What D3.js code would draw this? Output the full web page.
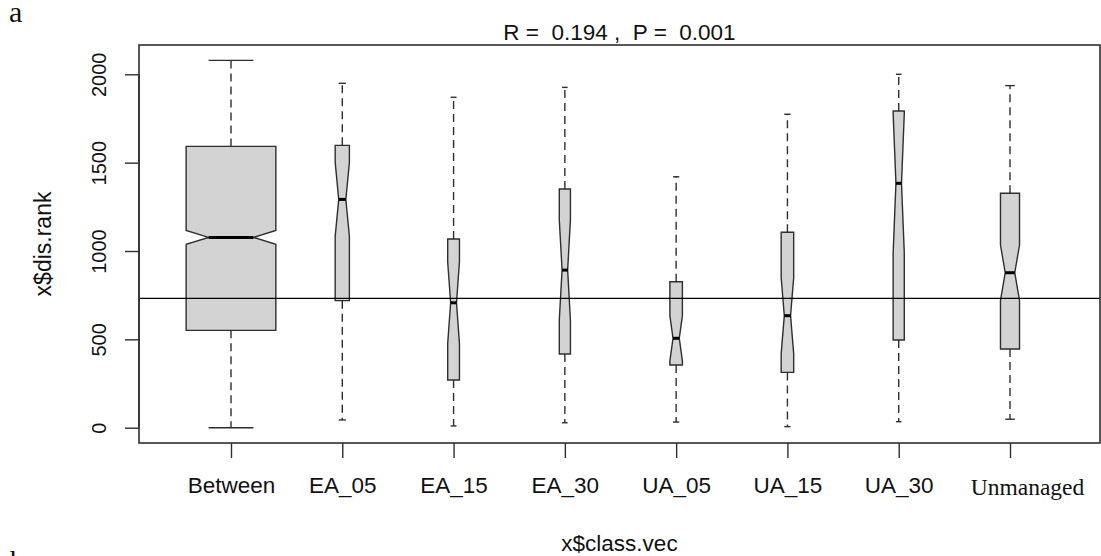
<!DOCTYPE html>
<html>
<head>
<meta charset="utf-8">
<script src="https://cdn.jsdelivr.net/npm/d3@7"></script>
<style>
  html, body { margin: 0; padding: 0; background: #ffffff; }
  svg { display: block; }
  .sans { font-family: "Liberation Sans", Arial, Helvetica, sans-serif; fill: #111; }
  .serif { font-family: "Liberation Serif", "Times New Roman", serif; fill: #111; }
</style>
</head>
<body>
<svg id="chart" width="1101" height="556"></svg>
<script>
// Rank-distance summaries for each management class
const categories   = ["Between", "EA_05", "EA_15", "EA_30", "UA_05", "UA_15", "UA_30", "Unmanaged"];
const whiskerLow   = [0,    44,   10,   28,   32,   6,    34,   48];
const lowerHinge   = [551,  719,  270,  417,  355,  313,  496,  445];
const medians      = [1077, 1292, 707,  892,  506,  634,  1383, 877];
const upperHinge   = [1592, 1598, 1068, 1351, 826,  1106, 1792, 1327];
const whiskerHigh  = [2079, 1949, 1870, 1926, 1420, 1774, 2000, 1936];
const groupSize    = [1750, 44,   30,   27,   34,   34,   27,   79];
const yTicks       = [0, 500, 1000, 1500, 2000];
const overallLine  = 732;
const statR = "0.194";
const statP = "0.001";

const svg = d3.select("#chart");

// plotting region frame
const frame = { left: 139, right: 1100, top: 45, bottom: 443 };

const x = d3.scalePoint().domain(categories).range([231, 1010]);
const y = d3.scaleLinear().domain([0, 2000]).range([427.7, 74.3]);

// varwidth boxes: width proportional to sqrt(n)
const maxBoxWidth = 89.7;
const maxSqrtN = Math.sqrt(d3.max(groupSize));
const boxWidth = n => maxBoxWidth * Math.sqrt(n) / maxSqrtN;

const boxes = categories.map((c, i) => ({
  name: c,
  lo: whiskerLow[i], q1: lowerHinge[i], med: medians[i], q3: upperHinge[i], hi: whiskerHigh[i],
  n: groupSize[i]
}));

const strokeCol = "#2e2e2e";
const g = svg.append("g");

boxes.forEach(b => {
  const cx = x(b.name);
  const w = boxWidth(b.n);
  const notch = 1.58 * (b.q3 - b.q1) / Math.sqrt(b.n);

  // dashed whiskers with staples
  [[b.q3, b.hi], [b.q1, b.lo]].forEach(([from, to]) => {
    g.append("line")
      .attr("x1", cx).attr("x2", cx)
      .attr("y1", y(from)).attr("y2", y(to))
      .attr("stroke", strokeCol).attr("stroke-width", 1.4)
      .attr("stroke-dasharray", "8,5");
    g.append("line")
      .attr("x1", cx - w / 4).attr("x2", cx + w / 4)
      .attr("y1", y(to)).attr("y2", y(to))
      .attr("stroke", strokeCol).attr("stroke-width", 1.4);
  });

  // notched box
  const x0 = cx - w / 2, x1 = cx + w / 2, xi0 = cx - w / 4, xi1 = cx + w / 4;
  const pts = [
    [x0, y(b.q3)], [x1, y(b.q3)], [x1, y(b.med + notch)], [xi1, y(b.med)],
    [x1, y(b.med - notch)], [x1, y(b.q1)], [x0, y(b.q1)], [x0, y(b.med - notch)],
    [xi0, y(b.med)], [x0, y(b.med + notch)]
  ];
  g.append("path")
    .attr("d", d3.line()(pts) + "Z")
    .attr("fill", "#d3d3d3")
    .attr("stroke", strokeCol).attr("stroke-width", 1.4)
    .attr("stroke-linejoin", "miter");

  // median bar
  g.append("line")
    .attr("x1", xi0).attr("x2", xi1)
    .attr("y1", y(b.med)).attr("y2", y(b.med))
    .attr("stroke", "#000").attr("stroke-width", 3);
});

// overall reference line
svg.append("line")
  .attr("x1", frame.left).attr("x2", frame.right)
  .attr("y1", y(overallLine)).attr("y2", y(overallLine))
  .attr("stroke", "#000").attr("stroke-width", 1.3);

// frame
svg.append("rect")
  .attr("x", frame.left).attr("y", frame.top)
  .attr("width", frame.right - frame.left).attr("height", frame.bottom - frame.top)
  .attr("fill", "none").attr("stroke", strokeCol).attr("stroke-width", 1.6);

// y axis
const yAxis = d3.axisLeft(y).tickValues(yTicks).tickSize(14).tickPadding(0).tickFormat(d3.format("d"));
const yg = svg.append("g").attr("transform", `translate(${frame.left},0)`).call(yAxis);
yg.select(".domain").attr("stroke", strokeCol).attr("stroke-width", 1.4)
  .attr("d", `M0,${y(0)}V${y(2000)}`);
yg.selectAll(".tick line").attr("stroke", strokeCol).attr("stroke-width", 1.4);
yg.selectAll(".tick text")
  .attr("class", "sans")
  .attr("font-size", 20)
  .attr("x", null).attr("dy", null)
  .attr("text-anchor", "middle")
  .attr("transform", "translate(-33,0) rotate(-90)");

// x axis
const xAxis = d3.axisBottom(x).tickSize(15).tickPadding(0);
const xg = svg.append("g").attr("transform", `translate(0,${frame.bottom})`).call(xAxis);
xg.select(".domain").remove();
xg.selectAll(".tick line").attr("stroke", strokeCol).attr("stroke-width", 1.4);
xg.selectAll(".tick text")
  .attr("class", d => d === "Unmanaged" ? "serif" : "sans")
  .attr("font-size", d => d === "Unmanaged" ? 23.5 : 22.5)
  .attr("dy", null)
  .attr("y", d => d === "Unmanaged" ? 52 : 50.3)
  .attr("x", d => d === "Unmanaged" ? 17 : 0);

// axis titles
svg.append("text").attr("class", "sans")
  .attr("font-size", 23)
  .attr("text-anchor", "middle")
  .attr("transform", `translate(51,${(frame.top + frame.bottom) / 2}) rotate(-90)`)
  .text("x$dis.rank");

svg.append("text").attr("class", "sans")
  .attr("font-size", 22.5)
  .attr("text-anchor", "middle")
  .attr("x", (frame.left + frame.right) / 2).attr("y", 551)
  .text("x$class.vec");

// statistic heading
svg.append("text").attr("class", "sans")
  .attr("font-size", 22.5)
  .attr("text-anchor", "middle")
  .attr("x", (frame.left + frame.right) / 2).attr("y", 40)
  .style("white-space", "pre")
  .text(`R =  ${statR} ,  P =  ${statP}`);

// panel letters
svg.append("text").attr("class", "serif")
  .attr("font-size", 30).attr("x", 9).attr("y", 22).text("a");
svg.append("text").attr("class", "serif")
  .attr("font-size", 29).attr("x", 10).attr("y", 571).text("b");
</script>
</body>
</html>
